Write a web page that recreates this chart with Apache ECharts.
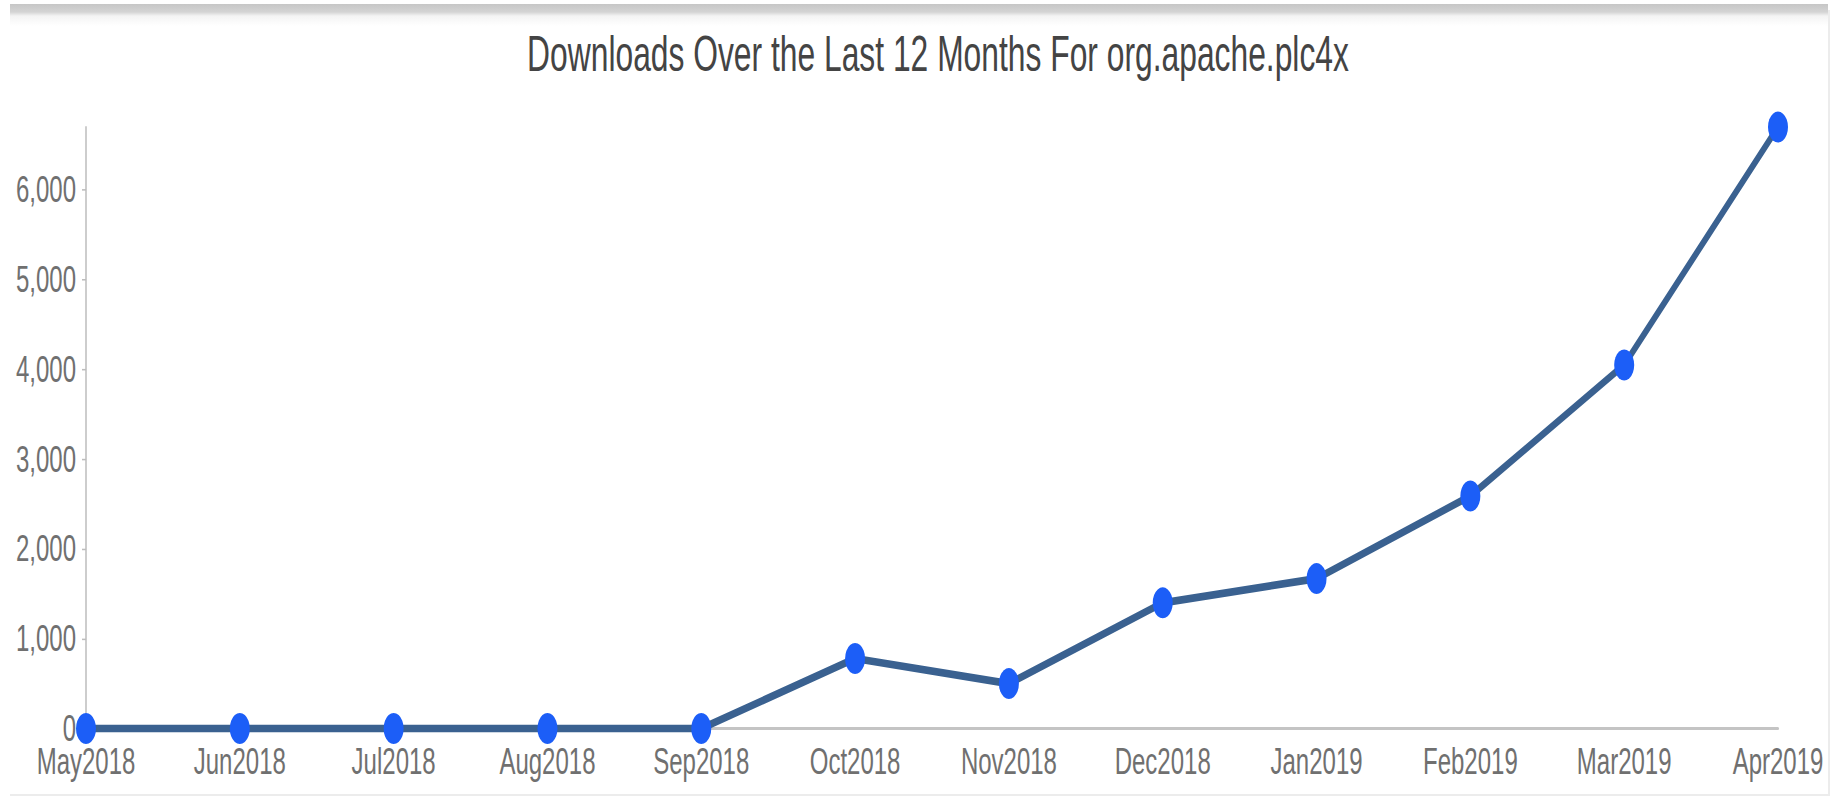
<!DOCTYPE html>
<html>
<head>
<meta charset="utf-8">
<script src="https://cdn.jsdelivr.net/npm/echarts@6/dist/echarts.min.js"></script>
<style>
  html, body { margin: 0; padding: 0; background: #fff; width: 1845px; height: 797px; overflow: hidden; }
  #wrap { position: absolute; left: 0; top: 0; width: 1845px; height: 797px; }
  #chart { position: absolute; left: 0; top: 0; width: 1845px; height: 514px; transform: scaleY(1.55); transform-origin: 0 0; }
  #topbar { position: absolute; left: 10px; top: 4px; width: 1818px; height: 22px;
            background: linear-gradient(#c6c6c6 0px, #d4d4d4 8px, #f4f4f4 12px, #ffffff 22px); }
  #rightb { position: absolute; left: 1828px; top: 10px; width: 2px; height: 785px; background: #ececec; }
  #bottomb { position: absolute; left: 10px; top: 794px; width: 1820px; height: 2px; background: #ececec; }
</style>
</head>
<body>
<div id="wrap">
  <div id="chart"></div>
  <div id="topbar"></div>
  <div id="rightb"></div>
  <div id="bottomb"></div>
</div>
<script>
const titleText = 'Downloads Over the Last 12 Months For org.apache.plc4x';
const months = ['May2018','Jun2018','Jul2018','Aug2018','Sep2018','Oct2018','Nov2018','Dec2018','Jan2019','Feb2019','Mar2019','Apr2019'];
const downloads = [0, 0, 0, 0, 0, 780, 500, 1400, 1670, 2590, 4050, 6700];
const yTicks = [0, 1000, 2000, 3000, 4000, 5000, 6000];

const chart = echarts.init(document.getElementById('chart'), null, { renderer: 'svg' });
chart.setOption({
  animation: false,
  backgroundColor: 'transparent',
  title: {
    text: titleText,
    left: 933,
    textAlign: 'center',
    top: 14,
    textStyle: { fontFamily: 'Liberation Sans, Arial, sans-serif', fontSize: 31.8, fontWeight: 'normal', color: '#444' }
  },
  grid: { left: 86, right: 67, top: 82, bottom: 44, containLabel: false },
  xAxis: {
    type: 'category',
    data: months,
    boundaryGap: false,
    axisLine: { lineStyle: { color: '#c4c4c4', width: 2 } },
    axisTick: { show: false },
    axisLabel: { color: '#707070', fontSize: 24, fontFamily: 'Liberation Sans, Arial, sans-serif', margin: 9, interval: 0 },
    splitLine: { show: false }
  },
  yAxis: {
    type: 'value',
    min: 0,
    max: 'dataMax',
    axisLine: { show: true, lineStyle: { color: '#bdbdbd', width: 1.5 } },
    axisTick: { show: true, length: 4, lineStyle: { color: '#bdbdbd' }, customValues: yTicks },
    axisLabel: {
      color: '#707070', fontSize: 24, fontFamily: 'Liberation Sans, Arial, sans-serif', margin: 10,
      customValues: yTicks,
      formatter: v => v.toLocaleString('en-US')
    },
    splitLine: { show: false }
  },
  series: [{
    type: 'line',
    data: downloads,
    lineStyle: { color: '#3a6190', width: 5 },
    symbol: 'circle',
    symbolSize: 20,
    showAllSymbol: true,
    itemStyle: { color: '#1c5ef7' },
    z: 3
  }]
});
</script>
</body>
</html>
